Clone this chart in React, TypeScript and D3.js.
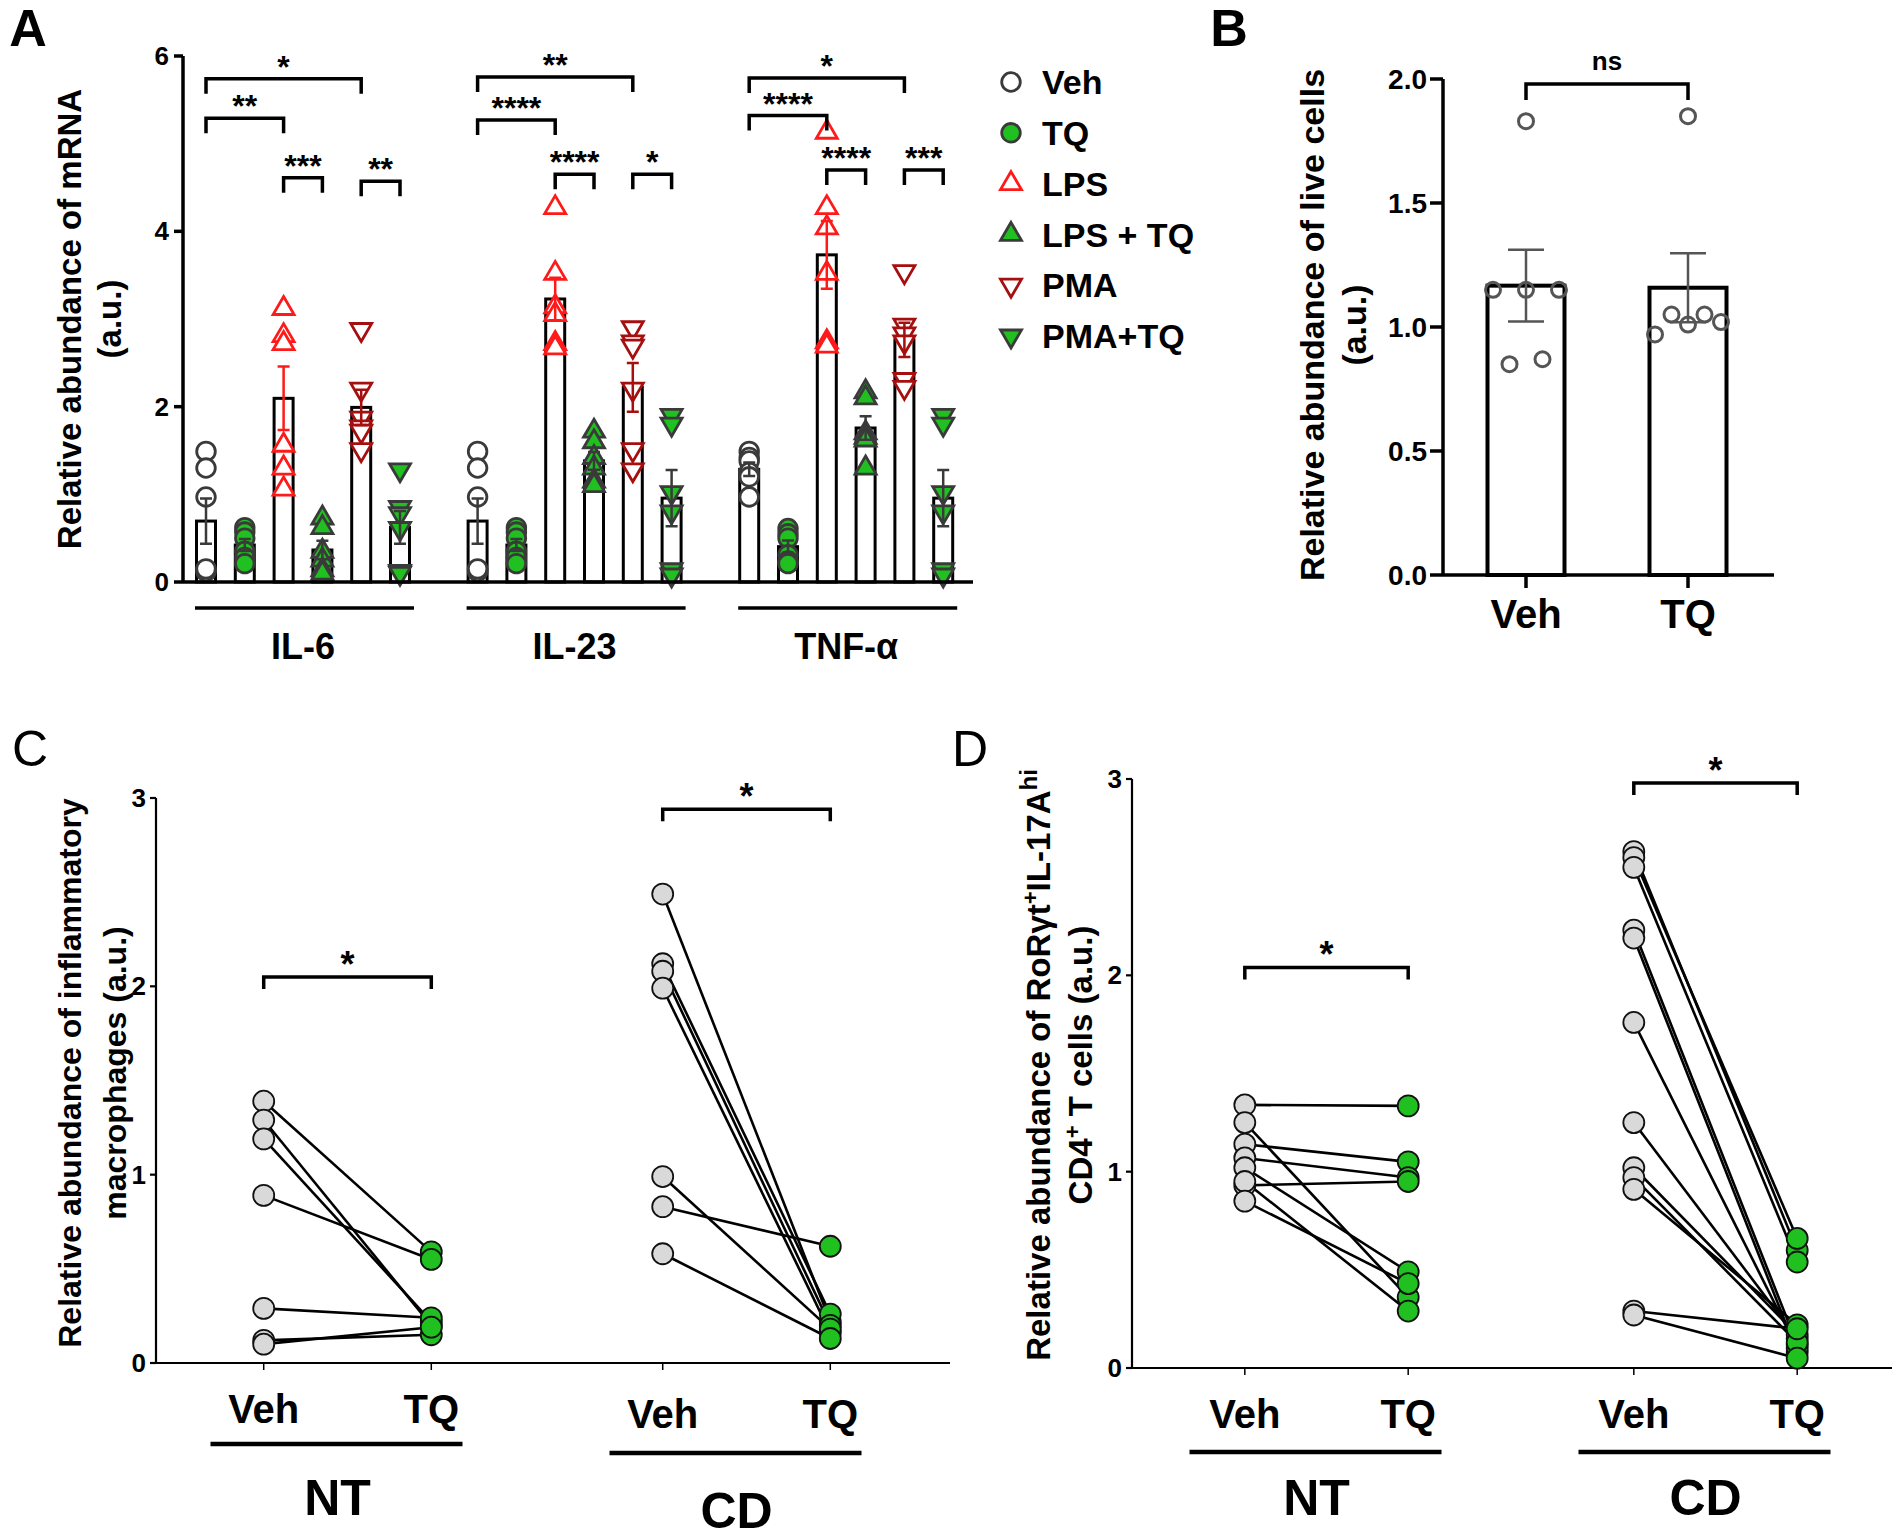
import * as d3 from "d3";

const FONT = "'Liberation Sans', Arial, Helvetica, sans-serif";
const GREEN = "#1fc01f";
const DARK = "#3a3a3a";

// ---------- panel A: mRNA by cytokine and treatment
const CYTOKINES = ["IL-6", "IL-23", "TNF-α"];
const TREATMENTS = ["Veh", "TQ", "LPS", "LPS + TQ", "PMA", "PMA+TQ"];
const IL6_VALUES = [
  [1.49, 1.3, 0.97, 0.14, 0.12, 0.15],
  [0.62, 0.57, 0.5, 0.35, 0.28, 0.21],
  [3.12, 2.81, 2.72, 1.56, 1.3, 1.06],
  [0.73, 0.62, 0.35, 0.25, 0.14, 0.1],
  [2.88, 2.2, 1.87, 1.77, 1.72, 1.51],
  [1.28, 0.85, 0.78, 0.61, 0.12, 0.1],
];
const IL23_VALUES = [
  [1.49, 1.3, 0.97, 0.14, 0.12, 0.15],
  [0.62, 0.57, 0.5, 0.35, 0.28, 0.21],
  [4.27, 3.52, 3.14, 3.05, 2.72, 2.67],
  [1.72, 1.6, 1.42, 1.3, 1.15, 1.1],
  [2.9, 2.74, 2.69, 2.2, 1.51, 1.28],
  [1.9, 1.8, 1.02, 0.8, 0.14, 0.08],
];
const TNF_VALUES = [
  [1.49, 1.42, 1.38, 1.25, 1.2, 0.97],
  [0.61, 0.55, 0.5, 0.31, 0.24, 0.21],
  [5.13, 4.27, 4.04, 3.52, 2.74, 2.69],
  [2.17, 2.1, 1.7, 1.65, 1.62, 1.3],
  [3.54, 2.93, 2.83, 2.74, 2.31, 2.22],
  [1.9, 1.8, 1.02, 0.8, 0.14, 0.08],
];
const A_VALUES = [IL6_VALUES, IL23_VALUES, TNF_VALUES];
const A_TICKS = [0, 2, 4, 6];
const A_BRACKETS = [
  { group: 0, from: 0, to: 4, y: 5.74, label: "*" },
  { group: 0, from: 0, to: 2, y: 5.29, label: "**" },
  { group: 0, from: 2, to: 3, y: 4.61, label: "***" },
  { group: 0, from: 4, to: 5, y: 4.57, label: "**" },
  { group: 1, from: 0, to: 4, y: 5.76, label: "**" },
  { group: 1, from: 0, to: 2, y: 5.27, label: "****" },
  { group: 1, from: 2, to: 3, y: 4.65, label: "****" },
  { group: 1, from: 4, to: 5, y: 4.65, label: "*" },
  { group: 2, from: 0, to: 4, y: 5.75, label: "*" },
  { group: 2, from: 0, to: 2, y: 5.32, label: "****" },
  { group: 2, from: 2, to: 3, y: 4.7, label: "****" },
  { group: 2, from: 4, to: 5, y: 4.7, label: "***" },
];

// ---------- panel B: live cells
const B_GROUPS = ["Veh", "TQ"];
const B_VALUES = [
  [1.83, 1.15, 1.15, 1.15, 0.85, 0.87],
  [1.85, 1.05, 1.05, 0.97, 1.01, 1.02],
];
const B_TICKS = [0, 0.5, 1, 1.5, 2];

// ---------- panels C & D: paired Veh -> TQ
const PAIR_GROUPS = ["NT", "CD"];
const PAIR_TICKS = [0, 1, 2, 3];
const C_NT_VEH = [1.39, 1.29, 1.19, 0.89, 0.29, 0.12, 0.1];
const C_NT_TQ = [0.59, 0.2, 0.22, 0.55, 0.24, 0.15, 0.19];
const C_CD_VEH = [2.49, 2.12, 2.08, 1.99, 0.99, 0.83, 0.58];
const C_CD_TQ = [0.22, 0.26, 0.2, 0.16, 0.18, 0.62, 0.13];
const D_NT_VEH = [1.34, 1.25, 1.14, 1.07, 1.02, 0.93, 0.95, 0.85];
const D_NT_TQ = [1.335, 0.36, 1.05, 0.97, 0.49, 0.95, 0.29, 0.43];
const D_CD_VEH = [2.63, 2.6, 2.55, 2.23, 2.19, 1.76, 1.25, 1.02, 0.97, 0.91, 0.29, 0.27];
const D_CD_TQ = [0.6, 0.66, 0.54, 0.12, 0.08, 0.1, 0.15, 0.17, 0.13, 0.22, 0.2, 0.05];

const sem = (a: number[]) => (d3.deviation(a) ?? 0) / Math.sqrt(a.length);

const STYLES = [
  { shape: "circle", fill: "#fff", stroke: DARK },
  { shape: "circle", fill: GREEN, stroke: DARK },
  { shape: "up", fill: "#fff", stroke: "#ff1a1a" },
  { shape: "up", fill: GREEN, stroke: DARK },
  { shape: "down", fill: "#fff", stroke: "#a50f0f" },
  { shape: "down", fill: GREEN, stroke: DARK },
];

function Marker({ x, y, idx, s = 1 }: { x: number; y: number; idx: number; s?: number }) {
  const st = STYLES[idx];
  if (st.shape === "circle")
    return <circle cx={x} cy={y} r={9.3 * s} fill={st.fill} stroke={st.stroke} strokeWidth={2.8} />;
  const w = 21 * s, h = 18 * s;
  const d =
    st.shape === "up"
      ? `M0,${(-2 * h) / 3}L${w / 2},${h / 3}L${-w / 2},${h / 3}Z`
      : `M0,${(2 * h) / 3}L${w / 2},${-h / 3}L${-w / 2},${-h / 3}Z`;
  return <path d={d} transform={`translate(${x},${y})`} fill={st.fill} stroke={st.stroke} strokeWidth={2.8} />;
}

function Bracket({ x1, x2, y, leg, label, size, gap = 0, sw = 3.5 }: any) {
  return (
    <g>
      <path d={`M${x1},${y + leg}V${y}H${x2}V${y + leg}`} fill="none" stroke="#000" strokeWidth={sw} />
      <text x={(x1 + x2) / 2} y={y - gap} textAnchor="middle" fontSize={size} fontWeight="bold">
        {label}
      </text>
    </g>
  );
}

function PanelA() {
  const y = d3.scaleLinear().domain([0, 6]).range([582, 56]);
  const slot = d3.scaleLinear().domain([0, 20]).range([206, 206 + 20 * 38.8]);
  const cx = (g: number, i: number) => slot(g * 7 + i);
  const axisX = 183;
  return (
    <g>
      <text x={28} y={46} textAnchor="middle" fontSize={52} fontWeight="bold">A</text>
      {/* y label */}
      <g transform="translate(69,319) rotate(-90)">
        <text textAnchor="middle" dy="0.35em" fontSize={33} fontWeight="bold">Relative abundance of mRNA</text>
      </g>
      <g transform="translate(109,319) rotate(-90)">
        <text textAnchor="middle" dy="0.35em" fontSize={33} fontWeight="bold">(a.u.)</text>
      </g>
      {/* bars */}
      {A_VALUES.map((grp, g) =>
        grp.map((vals, i) => {
          const m = d3.mean(vals)!;
          return (
            <rect key={`b${g}${i}`} x={cx(g, i) - 9.5} y={y(m)} width={19} height={y(0) - y(m)} fill="#fff" stroke="#000" strokeWidth={3} />
          );
        })
      )}
      {/* points */}
      {A_VALUES.map((grp, g) =>
        grp.map((vals, i) => vals.map((v, k) => <Marker key={`p${g}${i}${k}`} x={cx(g, i)} y={y(v)} idx={i} />))
      )}
      {/* error bars */}
      {A_VALUES.map((grp, g) =>
        grp.map((vals, i) => {
          const m = d3.mean(vals)!, e = sem(vals);
          const col = STYLES[i].fill === "#fff" && i > 0 ? STYLES[i].stroke : DARK;
          const x = cx(g, i);
          return (
            <path key={`e${g}${i}`} d={`M${x},${y(m - e)}V${y(m + e)}M${x - 6},${y(m + e)}H${x + 6}M${x - 6},${y(m - e)}H${x + 6}`} stroke={col} strokeWidth={2.5} fill="none" />
          );
        })
      )}
      {/* axes */}
      <line x1={axisX} x2={axisX} y1={y(6)} y2={y(0)} stroke="#000" strokeWidth={3.5} />
      <line x1={axisX} x2={973} y1={y(0)} y2={y(0)} stroke="#000" strokeWidth={3.5} />
      {A_TICKS.map((t) => (
        <g key={t}>
          <line x1={axisX - 9} x2={axisX} y1={y(t)} y2={y(t)} stroke="#000" strokeWidth={3.5} />
          <text x={axisX - 14} y={y(t)} dy="0.35em" textAnchor="end" fontSize={26} fontWeight="bold">{t}</text>
        </g>
      ))}
      {/* group underlines */}
      {CYTOKINES.map((c, g) => (
        <g key={c}>
          <line x1={cx(g, 0) - 11} x2={cx(g, 5) + 14} y1={608} y2={608} stroke="#000" strokeWidth={3.5} />
          <text x={(cx(g, 0) + cx(g, 5)) / 2} y={659} textAnchor="middle" fontSize={36} fontWeight="bold">{c}</text>
        </g>
      ))}
      {/* brackets */}
      {A_BRACKETS.map((b, k) => (
        <Bracket key={k} x1={cx(b.group, b.from)} x2={cx(b.group, b.to)} y={y(b.y)} leg={15} label={b.label} size={32} gap={1} />
      ))}
      {/* legend */}
      {TREATMENTS.map((t, i) => (
        <g key={t}>
          <Marker x={1011} y={82 + i * 50.8} idx={i} s={1.0} />
          <text x={1042} y={82 + i * 50.8} dy="0.36em" fontSize={34} fontWeight="bold">{t}</text>
        </g>
      ))}
    </g>
  );
}

function swarm(vals: number[], y: (v: number) => number, diam: number, step: number) {
  const order = d3.range(vals.length).sort((a, b) => vals[a] - vals[b]);
  const off = new Array(vals.length).fill(0);
  let i = 0;
  while (i < order.length) {
    let j = i + 1;
    while (j < order.length && Math.abs(y(vals[order[j]]) - y(vals[order[i]])) < diam) j++;
    const k = j - i;
    for (let q = i; q < j; q++) off[order[q]] = (q - i - (k - 1) / 2) * step;
    i = j;
  }
  return off;
}

function PanelB() {
  const y = d3.scaleLinear().domain([0, 2]).range([575, 79]);
  const x = d3.scaleBand().domain(B_GROUPS).range([1445, 1769]).paddingInner(0.5).paddingOuter(0.25);
  const axisX = 1443;
  const cx = (g: string) => x(g)! + x.bandwidth() / 2;
  return (
    <g>
      <text x={1229} y={46} textAnchor="middle" fontSize={52} fontWeight="bold">B</text>
      <g transform="translate(1312,325) rotate(-90)">
        <text textAnchor="middle" dy="0.35em" fontSize={34} fontWeight="bold">Relative abundance of live cells</text>
      </g>
      <g transform="translate(1354,325) rotate(-90)">
        <text textAnchor="middle" dy="0.35em" fontSize={34} fontWeight="bold">(a.u.)</text>
      </g>
      {B_GROUPS.map((g, gi) => {
        const vals = B_VALUES[gi];
        const m = d3.mean(vals)!, e = sem(vals);
        const off = swarm(vals, y, 16, 33);
        const c = cx(g);
        return (
          <g key={g}>
            <rect x={c - 38.5} y={y(m)} width={77} height={y(0) - y(m)} fill="#fff" stroke="#000" strokeWidth={4} />
            {vals.map((v, k) => (
              <circle key={k} cx={c + off[k]} cy={y(v)} r={7.5} fill="none" stroke="#555" strokeWidth={3} />
            ))}
            <path d={`M${c},${y(m - e)}V${y(m + e)}M${c - 18},${y(m + e)}H${c + 18}M${c - 18},${y(m - e)}H${c + 18}`} stroke="#555" strokeWidth={2.5} fill="none" />
            <line x1={c} x2={c} y1={y(0)} y2={y(0) + 13} stroke="#000" strokeWidth={3.5} />
            <text x={c} y={628} textAnchor="middle" fontSize={40} fontWeight="bold">{g}</text>
          </g>
        );
      })}
      <line x1={axisX} x2={axisX} y1={y(2)} y2={y(0)} stroke="#000" strokeWidth={3.5} />
      <line x1={axisX} x2={1774} y1={y(0)} y2={y(0)} stroke="#000" strokeWidth={3.5} />
      {B_TICKS.map((t) => (
        <g key={t}>
          <line x1={axisX - 13} x2={axisX} y1={y(t)} y2={y(t)} stroke="#000" strokeWidth={3.5} />
          <text x={axisX - 16} y={y(t)} dy="0.35em" textAnchor="end" fontSize={28} fontWeight="bold">{d3.format(".1f")(t)}</text>
        </g>
      ))}
      <Bracket x1={cx("Veh")} x2={cx("TQ")} y={y(1.98)} leg={16} label="ns" size={26} gap={14} />
    </g>
  );
}

function PairedPanel({ letter, letterX, axisX, xRange, baseEnd, yRange, data, brackets, label, labelXs, labelCY, labelSize, catY, underY, groupY }: any) {
  const y = d3.scaleLinear().domain([0, 3]).range(yRange);
  const gx = d3.scaleBand().domain(PAIR_GROUPS).range(xRange);
  const bw = gx.bandwidth();
  const mid = (g: string) => gx(g)! + bw / 2;
  const px = (g: string, k: number) => mid(g) + (k === 0 ? -1 : 1) * 0.21 * bw;
  return (
    <g>
      <text x={letterX} y={766} textAnchor="middle" fontSize={50}>{letter}</text>
      {label.map((ln: any, i: number) => (
        <g key={i} transform={`translate(${labelXs[i]},${labelCY}) rotate(-90)`}>
          <text textAnchor="middle" dy="0.35em" fontSize={labelSize} fontWeight="bold">{ln}</text>
        </g>
      ))}
      <line x1={axisX} x2={axisX} y1={y(3)} y2={y(0)} stroke="#000" strokeWidth={2.2} />
      <line x1={axisX} x2={baseEnd} y1={y(0)} y2={y(0)} stroke="#000" strokeWidth={2.2} />
      {PAIR_TICKS.map((t) => (
        <g key={t}>
          <line x1={axisX - 6} x2={axisX} y1={y(t)} y2={y(t)} stroke="#000" strokeWidth={2.2} />
          <text x={axisX - 10} y={y(t)} dy="0.35em" textAnchor="end" fontSize={26} fontWeight="bold">{t}</text>
        </g>
      ))}
      {PAIR_GROUPS.map((g, gi) => {
        const [veh, tq] = data[gi];
        const x0 = px(g, 0), x1 = px(g, 1);
        return (
          <g key={g}>
            {[x0, x1].map((xx, k) => (
              <line key={k} x1={xx} x2={xx} y1={y(0)} y2={y(0) + 7} stroke="#000" strokeWidth={1.5} />
            ))}
            {veh.map((v: number, k: number) => (
              <line key={`l${k}`} x1={x0} y1={y(v)} x2={x1} y2={y(tq[k])} stroke="#000" strokeWidth={2.6} />
            ))}
            {veh.map((v: number, k: number) => (
              <circle key={`v${k}`} cx={x0} cy={y(v)} r={10.5} fill="#d9d9d9" stroke="#111" strokeWidth={1.8} />
            ))}
            {tq.map((v: number, k: number) => (
              <circle key={`t${k}`} cx={x1} cy={y(v)} r={10.5} fill={GREEN} stroke="#111" strokeWidth={1.8} />
            ))}
            <text x={x0} y={catY[gi]} textAnchor="middle" fontSize={40} fontWeight="bold">Veh</text>
            <text x={x1} y={catY[gi]} textAnchor="middle" fontSize={40} fontWeight="bold">TQ</text>
            <line x1={mid(g) - 137} x2={mid(g) + 115} y1={underY[gi]} y2={underY[gi]} stroke="#000" strokeWidth={4.5} />
            <text x={mid(g) - 10} y={groupY[gi]} textAnchor="middle" fontSize={50} fontWeight="bold">{g}</text>
            <Bracket x1={x0} x2={x1} y={y(brackets[gi])} leg={12} label="*" size={36} gap={0} />
          </g>
        );
      })}
    </g>
  );
}

export default function App() {
  const dLabel1 = (
    <>
      Relative abundance of RoRγt<tspan dy={-12} fontSize={22}>+</tspan>
      <tspan dy={12}>IL-17A</tspan>
      <tspan dy={-13} fontSize={24}>hi</tspan>
    </>
  );
  const dLabel2 = (
    <>
      CD4<tspan dy={-12} fontSize={22}>+</tspan>
      <tspan dy={12}> T cells (a.u.)</tspan>
    </>
  );
  return (
    <svg
      width={1900}
      height={1538}
      viewBox="0 0 1900 1538"
      style={{ position: "absolute", left: 0, top: 0, background: "#fff" }}
      fontFamily={FONT}
    >
      <rect width={1900} height={1538} fill="#fff" />
      <PanelA />
      <PanelB />
      <PairedPanel
        letter="C"
        letterX={30}
        axisX={156}
        xRange={[148, 946]}
        baseEnd={950}
        yRange={[1363, 798]}
        data={[
          [C_NT_VEH, C_NT_TQ],
          [C_CD_VEH, C_CD_TQ],
        ]}
        brackets={[2.05, 2.94]}
        label={["Relative abundance of inflammatory", "macrophages (a.u.)"]}
        labelXs={[70, 115]}
        labelCY={1073}
        labelSize={32}
        catY={[1423, 1428]}
        underY={[1444, 1453]}
        groupY={[1515, 1528]}
      />
      <PairedPanel
        letter="D"
        letterX={970}
        axisX={1132}
        xRange={[1132, 1910]}
        baseEnd={1892}
        yRange={[1368, 779]}
        data={[
          [D_NT_VEH, D_NT_TQ],
          [D_CD_VEH, D_CD_TQ],
        ]}
        brackets={[2.04, 2.98]}
        label={[dLabel1, dLabel2]}
        labelXs={[1038, 1080]}
        labelCY={1065}
        labelSize={33}
        catY={[1428, 1428]}
        underY={[1452, 1452]}
        groupY={[1515, 1515]}
      />
    </svg>
  );
}
